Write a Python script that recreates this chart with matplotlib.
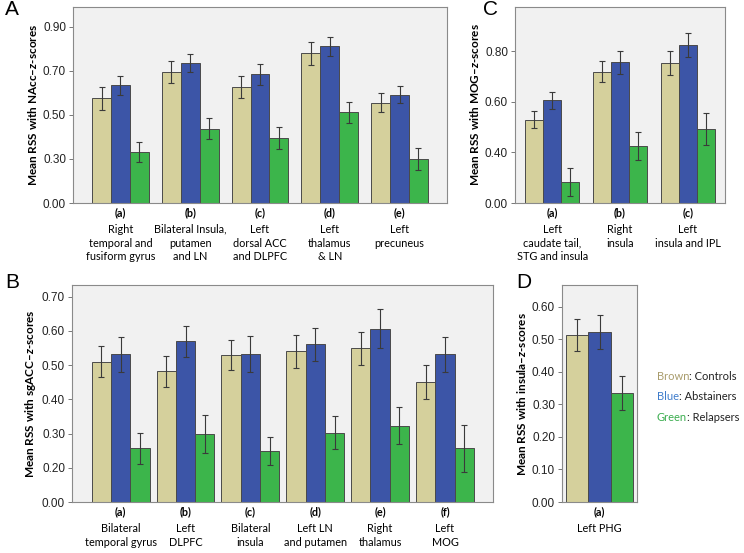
import matplotlib
matplotlib.use('Agg')
import matplotlib.pyplot as plt
from matplotlib.transforms import ScaledTranslation
from matplotlib.offsetbox import TextArea, HPacker, VPacker, AnchoredOffsetbox

plt.rcParams['font.family'] = ['Lato', 'DejaVu Sans']
plt.rcParams['mathtext.fontset'] = 'custom'
plt.rcParams['mathtext.it'] = 'Lato:italic:bold'
plt.rcParams['mathtext.rm'] = 'Lato:bold'

# group names / colours
groups = ['Controls', 'Abstainers', 'Relapsers']
bar_colors = ['#d5d09c', '#3c55a7', '#3cb54b']
legend_words = ['Brown', 'Blue', 'Green']
legend_colors = ['#a99c6c', '#3f7ccb', '#3bad4f']

# panel A: seed NAcc
a_codes = ['(a)', '(b)', '(c)', '(d)', '(e)']
a_regions = ['Right\ntemporal and\nfusiform gyrus', 'Bilateral Insula,\nputamen\nand LN',
             'Left\ndorsal ACC\nand DLPFC', 'Left\nthalamus\n& LN', 'Left\nprecuneus']
a_controls = [0.576, 0.695, 0.627, 0.779, 0.556]
a_controls_err = [0.052, 0.052, 0.048, 0.051, 0.042]
a_abstainers = [0.635, 0.736, 0.685, 0.811, 0.592]
a_abstainers_err = [0.044, 0.039, 0.047, 0.044, 0.039]
a_relapsers = [0.330, 0.438, 0.395, 0.512, 0.300]
a_relapsers_err = [0.045, 0.046, 0.052, 0.047, 0.052]
a_ticks = [0.10, 0.30, 0.50, 0.70, 0.90]
a_ticklabels = ['0.00', '0.30', '0.50', '0.70', '0.90']

# panel B: seed sgACC
b_codes = ['(a)', '(b)', '(c)', '(d)', '(e)', '(f)']
b_regions = ['Bilateral\ntemporal gyrus', 'Left\nDLPFC', 'Bilateral\ninsula',
             'Left LN\nand putamen', 'Right\nthalamus', 'Left\nMOG']
b_controls = [0.510, 0.482, 0.530, 0.540, 0.549, 0.451]
b_controls_err = [0.045, 0.045, 0.043, 0.047, 0.049, 0.050]
b_abstainers = [0.531, 0.570, 0.532, 0.561, 0.606, 0.531]
b_abstainers_err = [0.051, 0.045, 0.053, 0.048, 0.057, 0.051]
b_relapsers = [0.257, 0.298, 0.250, 0.303, 0.323, 0.257]
b_relapsers_err = [0.045, 0.055, 0.041, 0.047, 0.054, 0.068]
b_ticks = [0.10, 0.20, 0.30, 0.40, 0.50, 0.60, 0.70]
b_ticklabels = ['0.00', '0.20', '0.30', '0.40', '0.50', '0.60', '0.70']

# panel C: seed MOG
c_codes = ['(a)', '(b)', '(c)']
c_regions = ['Left\ncaudate tail,\nSTG and insula', 'Right\ninsula', 'Left\ninsula and IPL']
c_controls = [0.529, 0.718, 0.753]
c_controls_err = [0.034, 0.041, 0.047]
c_abstainers = [0.605, 0.755, 0.824]
c_abstainers_err = [0.034, 0.045, 0.048]
c_relapsers = [0.283, 0.425, 0.492]
c_relapsers_err = [0.057, 0.054, 0.064]
c_ticks = [0.20, 0.40, 0.60, 0.80]
c_ticklabels = ['0.00', '0.40', '0.60', '0.80']

# panel D: seed insula
d_codes = ['(a)']
d_regions = ['Left PHG']
d_controls = [0.512]
d_controls_err = [0.050]
d_abstainers = [0.523]
d_abstainers_err = [0.052]
d_relapsers = [0.335]
d_relapsers_err = [0.052]
d_ticks = [0.0, 0.10, 0.20, 0.30, 0.40, 0.50, 0.60]
d_ticklabels = ['0.00', '0.10', '0.20', '0.30', '0.40', '0.50', '0.60']


def draw_panel(ax, codes, regions, means, errs, ticks, ticklabels, ylim, xlim, width, ylabel):
    x = list(range(len(codes)))
    for i in range(3):
        pos = [xi + (i - 1) * width for xi in x]
        ax.bar(pos, means[i], width, color=bar_colors[i], edgecolor='#4a4a4a', linewidth=0.7,
               zorder=2)
        ax.errorbar(pos, means[i], yerr=errs[i], fmt='none', ecolor='#3a3a3a', elinewidth=0.8,
                    capsize=2, capthick=0.8, zorder=3)
    ax.set_facecolor('#f1f1f1')
    ax.set_xlim(*xlim)
    ax.set_ylim(*ylim)
    ax.set_yticks(ticks, ticklabels, family='Liberation Sans', fontsize=8.5, color='#222222')
    ax.tick_params(axis='y', length=3, width=0.7, color='#777777', pad=2)
    ax.set_xticks(x, codes)
    ax.set_xticks(x, regions, minor=True)
    ax.xaxis.remove_overlapping_locs = False
    ax.tick_params(axis='x', which='major', length=0, pad=3, labelsize=7.8)
    ax.tick_params(axis='x', which='minor', length=0, pad=15, labelsize=7.8)
    for t in ax.get_xticklabels():
        t.set_fontweight('bold')
    for t in ax.get_xticklabels(minor=True):
        t.set_linespacing(1.3)
    for s in ax.spines.values():
        s.set_color('#8a8a8a')
        s.set_linewidth(0.8)
    ax.set_ylabel(ylabel, fontweight='bold', fontsize=8.5, labelpad=3)


fig = plt.figure(figsize=(7.44, 5.53), dpi=100)

ax_a = fig.add_axes([0.0981, 0.6329, 0.5027, 0.3544])
draw_panel(ax_a, a_codes, a_regions, [a_controls, a_abstainers, a_relapsers],
           [a_controls_err, a_abstainers_err, a_relapsers_err], a_ticks, a_ticklabels,
           (0.10, 0.99), (-0.68, 4.68), 0.271, 'Mean RSS with NAcc\u2013$z$-scores')

ax_c = fig.add_axes([0.6922, 0.6329, 0.2823, 0.3544])
draw_panel(ax_c, c_codes, c_regions, [c_controls, c_abstainers, c_relapsers],
           [c_controls_err, c_abstainers_err, c_relapsers_err], c_ticks, c_ticklabels,
           (0.20, 0.974), (-0.55, 2.55), 0.265, 'Mean RSS with MOG\u2013$z$-scores')

ax_b = fig.add_axes([0.0968, 0.0922, 0.5658, 0.3924])
draw_panel(ax_b, b_codes, b_regions, [b_controls, b_abstainers, b_relapsers],
           [b_controls_err, b_abstainers_err, b_relapsers_err], b_ticks, b_ticklabels,
           (0.10, 0.734), (-0.75, 5.74), 0.297, 'Mean RSS with sgACC\u2013$z$-scores')

ax_d = fig.add_axes([0.7554, 0.0922, 0.1008, 0.3924])
draw_panel(ax_d, d_codes, d_regions, [d_controls, d_abstainers, d_relapsers],
           [d_controls_err, d_abstainers_err, d_relapsers_err], d_ticks, d_ticklabels,
           (0.0, 0.666), (-0.504, 0.504), 0.30, 'Mean RSS with insula\u2013$z$-scores')

# panel letters, placed relative to the top-left corner of each axes
for ax, letter, dx, dy in [(ax_a, 'A', -0.68, 0.07), (ax_b, 'B', -0.67, 0.12),
                           (ax_c, 'C', -0.32, 0.07), (ax_d, 'D', -0.46, 0.12)]:
    ax.text(0, 1, letter, fontsize=15, family='Liberation Sans', ha='left', va='top',
            transform=ax.transAxes + ScaledTranslation(dx, dy, fig.dpi_scale_trans))

# coloured legend text
rows = []
for word, col, grp in zip(legend_words, legend_colors, groups):
    rows.append(HPacker(children=[
        TextArea(word, textprops=dict(color=col, fontsize=8, family='Lato')),
        TextArea(': ' + grp, textprops=dict(color='#222222', fontsize=8, family='Lato')),
    ], align='baseline', pad=0, sep=0))
box = VPacker(children=rows, align='left', pad=0, sep=7)
anchored = AnchoredOffsetbox(loc='upper left', child=box, frameon=False, pad=0, borderpad=0,
                             bbox_to_anchor=(0.883, 0.330), bbox_transform=fig.transFigure)
fig.add_artist(anchored)

fig.savefig('out.png', dpi=100)
